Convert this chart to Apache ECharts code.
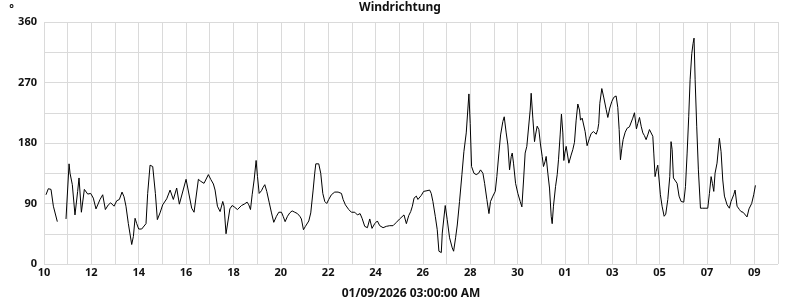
<!DOCTYPE html>
<html><head><meta charset="utf-8">
<script src="https://cdn.jsdelivr.net/npm/echarts@6/dist/echarts.min.js"></script>
<style>html,body{margin:0;padding:0;background:#fff}#c{width:800px;height:300px}</style>
</head><body><div id="c"></div>
<script>
const chartTitle = 'Windrichtung';
const unitLabel = '°';
const xAxisTitle = '01/09/2026 03:00:00 AM';
const startTime = Date.UTC(2025, 11, 10); // 10 Dec 2025 00:00
const DAY = 86400000;
const dayCount = 31;
const yTicks = [0, 90, 180, 270, 360];

// hours since start
const hourOffsets = [
2.0,4.4,7.1,9.5,13.5,18,22.3,25.4,26.4,28.7,31.4,34.1,35.5,37.9,40.9,44.3,47.3,50.0,52.7,56.8,
59.5,62.2,65.2,67.6,71.0,73.7,76.4,79.1,81.1,83.1,85.5,88.9,90.6,92.3,94.0,96.0,99.0,103.4,105.1,107.5,
110.2,112.9,114.9,117.6,120.3,124.4,127.8,131.1,134.5,137.2,144.0,145.7,149.7,152.1,156.5,158.9,162.2,166.6,169.0,171.7,
173.4,175.8,178.5,181.2,182.5,184.5,188.4,190.7,192.8,196.1,200.2,202.9,205.9,207.6,209.3,211.0,213.0,215.0,216.4,218.1,
220.4,222.1,223.8,225.8,228.2,230.6,232.9,235.6,238.0,240.7,242.4,244.4,246.8,249.1,251.5,254.2,256.9,259.3,260.9,263.0,
265.0,268.4,270.4,272.8,274.4,275.5,278.5,280.5,282.6,284.6,286.6,288.6,291.3,294.7,298.1,301.5,303.2,305.5,308.9,311.6,
315.0,317.7,320.4,322.4,325.1,327.8,330.2,332.5,335.2,337.9,340.3,343.7,347.0,350.4,353.8,357.2,360.5,364.9,367.3,369.7,
371.7,373.4,375.1,377.4,379.0,382.4,384.8,388.2,390.9,392.5,394.2,396.6,398.6,400.3,402.7,403.7,406.7,408.7,411.1,413.8,
415.2,417.2,418.9,421.2,423.6,425.6,428.0,429.7,430.7,432.0,433.4,435.8,438.1,440.5,442.5,444.9,446.6,448.9,451.0,452.6,
455.0,457.4,459.0,461.1,462.8,465.1,466.5,468.5,470.2,471.9,473.6,474.6,475.9,478.0,480.3,482.7,484.4,486.1,487.7,489.4,
492.8,493.8,495.5,497.2,498.2,499.9,501.6,503.3,505.0,506.3,508.0,509.0,510.7,512.4,514.1,515.1,516.4,518.5,520.2,521.5,
523.2,524.5,525.9,526.9,527.9,529.3,532.0,534.3,536.0,537.7,539.4,541.1,542.8,543.8,545.5,547.0,548.5,550.5,552.9,554.6,
557.0,559.7,561.3,562.3,563.4,565.4,567.5,569.8,571.5,573.5,575.6,577.6,579.9,581.6,583.0,584.3,585.7,587.0,589.1,591.1,
593.4,595.1,596.8,598.5,600.5,601.9,603.6,605.3,607.0,608.6,610.3,612.0,613.7,615.4,617.1,618.1,619.4,620.5,622.1,623.5,
624.8,626.5,628.6,630.2,632.3,634.3,635.6,636.7,638.0,640.0,641.7,643.7,645.8,648.5,650.2,651.9,653.5,654.9,656.6,657.9,
658.9,660.0,661.6,663.3,665.4,667.7,670.1,672.8,674.5,676.2,677.5,678.9,680.2,682.2,684.6,686.3,688.0,689.7,692.4,694.7,
696.4,699.1,700.5,702.5,704.9,706.5,708.6,710.6,712.6,714.6,717.3,719.4,721.1
];
const directions = [
103,112,111,86,63,null,67,149,135,118,73,108,128,77,111,104,105,98,82,96,
103,81,88,91,86,94,96,107,100,86,60,29,41,68,60,52,52,60,105,147,
145,105,66,76,88,97,110,96,113,89,126,125,83,77,126,123,120,133,126,119,
110,86,78,93,86,45,82,87,85,81,87,89,92,88,81,103,125,154,130,105,
109,114,118,108,92,76,62,71,77,77,71,63,71,76,79,77,75,71,67,51,
56,64,76,110,135,149,149,135,105,93,90,96,103,107,107,105,96,88,81,77,
77,73,75,68,56,54,67,53,60,64,57,54,56,57,57,62,67,73,60,72,
78,86,98,101,96,102,108,109,110,105,93,71,51,19,17,46,87,66,39,24,
19,39,58,93,133,167,195,232,253,209,145,135,133,135,140,135,120,96,75,93,
101,108,130,165,192,212,219,195,177,140,160,165,150,120,105,93,85,125,165,175,
229,254,217,182,192,205,200,177,160,145,153,160,135,113,71,60,86,115,133,155,
192,223,195,154,165,175,150,162,170,181,214,238,229,214,217,219,197,176,187,194,
197,193,200,209,239,261,247,230,218,232,242,248,250,233,200,155,172,185,196,202,
204,205,217,225,201,209,218,205,195,191,185,192,200,200,190,165,130,138,147,125,
103,86,71,74,96,130,182,170,128,126,120,101,93,92,115,165,219,274,313,328,
336,274,205,140,83,83,83,83,105,130,120,108,135,150,187,167,125,101,88,83,
93,103,110,86,81,78,77,77,70,82,90,103,117
];

const seriesData = hourOffsets.map((h, i) => [startTime + h * 3600000, directions[i]]);
const font = '"Noto Sans", "Open Sans", sans-serif';

const chart = echarts.init(document.getElementById('c'), null, {renderer: 'canvas'});
chart.setOption({
  animation: false,
  backgroundColor: '#fff',
  title: {
    text: chartTitle, left: 'center', top: -3,
    textStyle: {fontFamily: font, fontSize: 12, fontWeight: 'bold', color: '#111'}
  },
  grid: {left: 44, right: 22, top: 22, bottom: 36, containLabel: false, outerBoundsMode: 'none'},
  xAxis: {
    type: 'value',
    min: startTime, max: startTime + dayCount * DAY, interval: DAY,
    name: xAxisTitle, nameLocation: 'middle', nameGap: 24,
    nameTextStyle: {fontFamily: font, fontSize: 12, fontWeight: 'bold', color: '#111'},
    axisLine: {show: false}, axisTick: {show: false},
    axisLabel: {
      fontFamily: font, fontSize: 11, fontWeight: 'bold', color: '#111', margin: 3,
      showMaxLabel: false,
      formatter: v => {
        const idx = Math.round((v - startTime) / DAY);
        if (idx % 2 !== 0) return '';
        return String(new Date(v).getUTCDate()).padStart(2, '0');
      }
    },
    splitLine: {show: true, lineStyle: {color: '#dadada', width: 1}}
  },
  yAxis: {
    type: 'value', min: yTicks[0], max: yTicks[yTicks.length - 1], interval: 45,
    name: unitLabel, nameLocation: 'end', nameGap: 8,
    nameTextStyle: {fontFamily: font, fontSize: 11, fontWeight: 'bold', color: '#111', align: 'right', padding: [0, 30, 0, 0]},
    axisLine: {show: false}, axisTick: {show: false},
    axisLabel: {
      fontFamily: font, fontSize: 11, fontWeight: 'bold', color: '#111', margin: 7,
      formatter: v => yTicks.includes(v) ? String(v) : ''
    },
    splitLine: {show: true, lineStyle: {color: '#dadada', width: 1}}
  },
  series: [{
    type: 'line', data: seriesData, showSymbol: false, connectNulls: false,
    lineStyle: {color: '#000', width: 1}, itemStyle: {color: '#000'}
  }]
});
</script></body></html>
